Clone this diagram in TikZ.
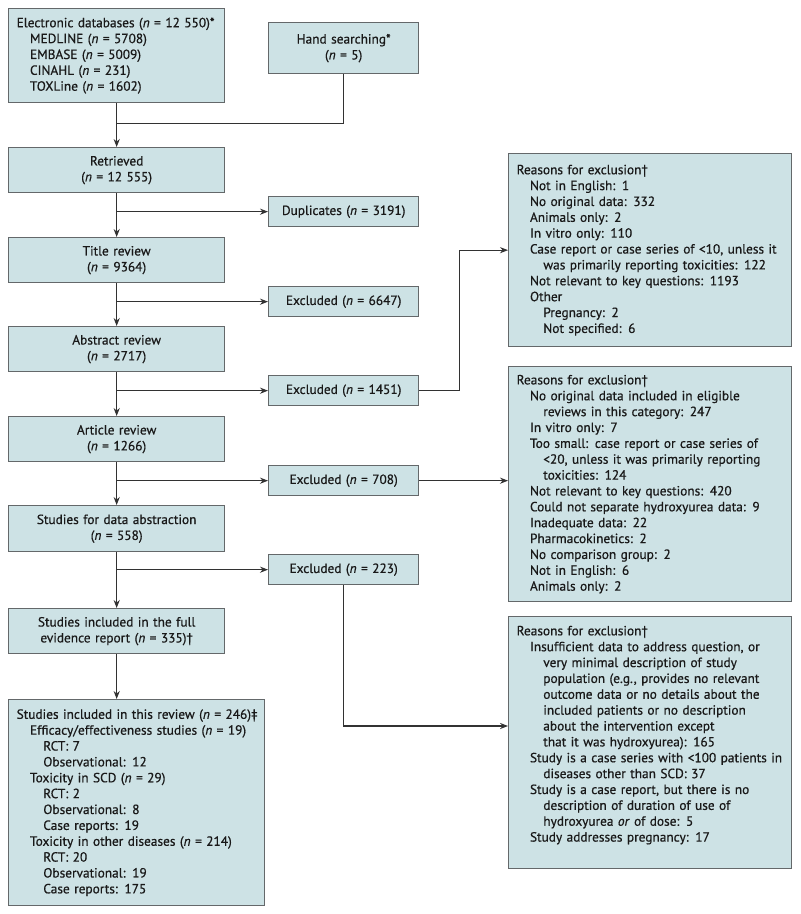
\documentclass[tikz,border=0pt]{standalone}
\usepackage{fontspec}
\setmainfont{PT Sans}[FakeBold=0.6]
\usetikzlibrary{arrows.meta}

\newcommand{\varwl}{162pt}
\newcommand{\vartl}{150pt}
\newcommand{\varwr}{212.25pt}
\newcommand{\vartr}{200.25pt}
\newcommand{\varwe}{112.5pt}
\newcommand{\varhs}{33.75pt}
\newcommand{\varhe}{22.5pt}
\newcommand{\ind}{\hspace*{10pt}}
\newcommand{\indd}{\hspace*{20pt}}
\newcommand{\nn}{\textit{n}}
\definecolor{myfill}{RGB}{205,226,229}
\definecolor{myedge}{RGB}{100,104,106}
\definecolor{myline}{RGB}{50,50,50}

\begin{document}
\begin{tikzpicture}[x=0.75pt, y=-0.75pt,
	every node/.style={font=\fontsize{10}{11.9}\selectfont, text=black!90},
	box/.style={draw=myedge, line width=1pt, fill=myfill, anchor=north west, inner xsep=6pt, inner ysep=0pt},
	stagebox/.style={box, align=center, text width=\vartl, minimum width=\varwl, minimum height=\varhs},
	exclbox/.style={box, align=center, text width=100.5pt, minimum width=\varwe, minimum height=\varhe},
	listbox/.style={box, align=left, text width=\vartr, minimum width=\varwr},
	arr/.style={draw=myline, line width=0.8pt, -{Stealth[length=6pt, width=4.6pt]}},
	lin/.style={draw=myline, line width=0.8pt}]

	\useasboundingbox (0,0) rectangle (800,914);

	% sources
	\node [box, align=left, text width=\vartl, minimum width=\varwl, minimum height=70.5pt] (db) at (8,8)
		{\mbox{Electronic databases (\nn{} = 12~550)*}\\
		\ind MEDLINE (\nn{} = 5708)\\
		\ind EMBASE (\nn{} = 5009)\\
		\ind CINAHL (\nn{} = 231)\\
		\ind TOXLine (\nn{} = 1602)};
	\node [exclbox, minimum height=38.25pt] (hand) at (268,22) {Hand searching*\\(\nn{} = 5)};
	\coordinate (join) at (116,123.5);

	% main column
	\node [stagebox] (retr) at (8,147) {Retrieved\\(\nn{} = 12~555)};
	\node [stagebox] (title) at (8,237) {Title review\\(\nn{} = 9364)};
	\node [stagebox] (abst) at (8,326) {Abstract review\\(\nn{} = 2717)};
	\node [stagebox] (art) at (8,416) {Article review\\(\nn{} = 1266)};
	\node [stagebox, minimum height=34.5pt] (data) at (8,505) {Studies for data abstraction\\(\nn{} = 558)};
	\node [stagebox] (full) at (8,608) {Studies included in the full\\evidence report (\nn{} = 335)\textdagger};
	\node [box, align=left, text width=180pt, minimum width=192pt, minimum height=154.5pt] (incl) at (8,699)
		{\mbox{Studies included in this review (\nn{} = 246)\textdaggerdbl}\\
		\ind Efficacy/effectiveness studies (\nn{} = 19)\\
		\indd RCT: 7\\
		\indd Observational: 12\\
		\ind Toxicity in SCD (\nn{} = 29)\\
		\indd RCT: 2\\
		\indd Observational: 8\\
		\indd Case reports: 19\\
		\ind Toxicity in other diseases (\nn{} = 214)\\
		\indd RCT: 20\\
		\indd Observational: 19\\
		\indd Case reports: 175};

	% exclusions
	\node [exclbox] (dup) at (268,196) {Duplicates (\nn{} = 3191)};
	\node [exclbox] (exa) at (268,286) {Excluded (\nn{} = 6647)};
	\node [exclbox] (exb) at (268,375) {Excluded (\nn{} = 1451)};
	\node [exclbox] (exc) at (268,465) {Excluded (\nn{} = 708)};
	\node [exclbox] (exd) at (268,554) {Excluded (\nn{} = 223)};

	% reasons
	\node [listbox, minimum height=144.75pt] (rsa) at (508,153)
		{Reasons for exclusion\textdagger\\
		\ind Not in English: 1\\
		\ind No original data: 332\\
		\ind Animals only: 2\\
		\ind In vitro only: 110\\
		\ind \mbox{Case report or case series of <10, unless it}\\
		\indd was primarily reporting toxicities: 122\\
		\ind Not relevant to key questions: 1193\\
		\ind Other\\
		\indd Pregnancy: 2\\
		\indd Not specified: 6};
	\node [listbox, minimum height=176.25pt] (rsb) at (508,366)
		{Reasons for exclusion\textdagger\\
		\ind No original data included in eligible\\
		\indd reviews in this category: 247\\
		\ind In vitro only: 7\\
		\ind Too small: case report or case series of\\
		\indd \mbox{<20, unless it was primarily reporting}\\
		\indd toxicities: 124\\
		\ind Not relevant to key questions: 420\\
		\ind Could not separate hydroxyurea data: 9\\
		\ind Inadequate data: 22\\
		\ind Pharmacokinetics: 2\\
		\ind No comparison group: 2\\
		\ind Not in English: 6\\
		\ind Animals only: 2};
	\node [listbox, minimum height=189pt] (rsc) at (508,616)
		{Reasons for exclusion\textdagger\\
		\ind Insufficient data to address question, or\\
		\indd very minimal description of study\\
		\indd population (e.g., provides no relevant\\
		\indd outcome data or no details about the\\
		\indd included patients or no description\\
		\indd about the intervention except\\
		\indd that it was hydroxyurea): 165\\
		\ind \mbox{Study is a case series with <100 patients in}\\
		\indd diseases other than SCD: 37\\
		\ind Study is a case report, but there is no\\
		\indd description of duration of use of\\
		\indd hydroxyurea \textit{or} of dose: 5\\
		\ind Study addresses pregnancy: 17\\[1.5pt]
		\mbox{}};
	\coordinate (rscin) at (508,726);

	% arrows
	\draw [lin] (hand.south) |- (join);
	\draw [arr] (db) -- (retr);
	\draw [arr] (retr) -- (title);
	\draw [arr] (title) -- (abst);
	\draw [arr] (abst) -- (art);
	\draw [arr] (art) -- (data);
	\draw [arr] (data) -- (full);
	\draw [arr] (full.south) -- (full.south |- incl.north);
	\draw [arr] (retr.south |- dup.west) -- (dup.west);
	\draw [arr] (title.south |- exa.west) -- (exa.west);
	\draw [arr] (abst.south |- exb.west) -- (exb.west);
	\draw [arr] (art.south |- exc.west) -- (exc.west);
	\draw [arr] (data.south |- exd.west) -- (exd.west);
	\draw [arr] (exb.east) -- ++(40,0) |- (rsa.west);
	\draw [arr] (exc.east) -- (exc.east -| rsb.west);
	\draw [arr] (exd.south) |- (rscin);

\end{tikzpicture}
\end{document}
